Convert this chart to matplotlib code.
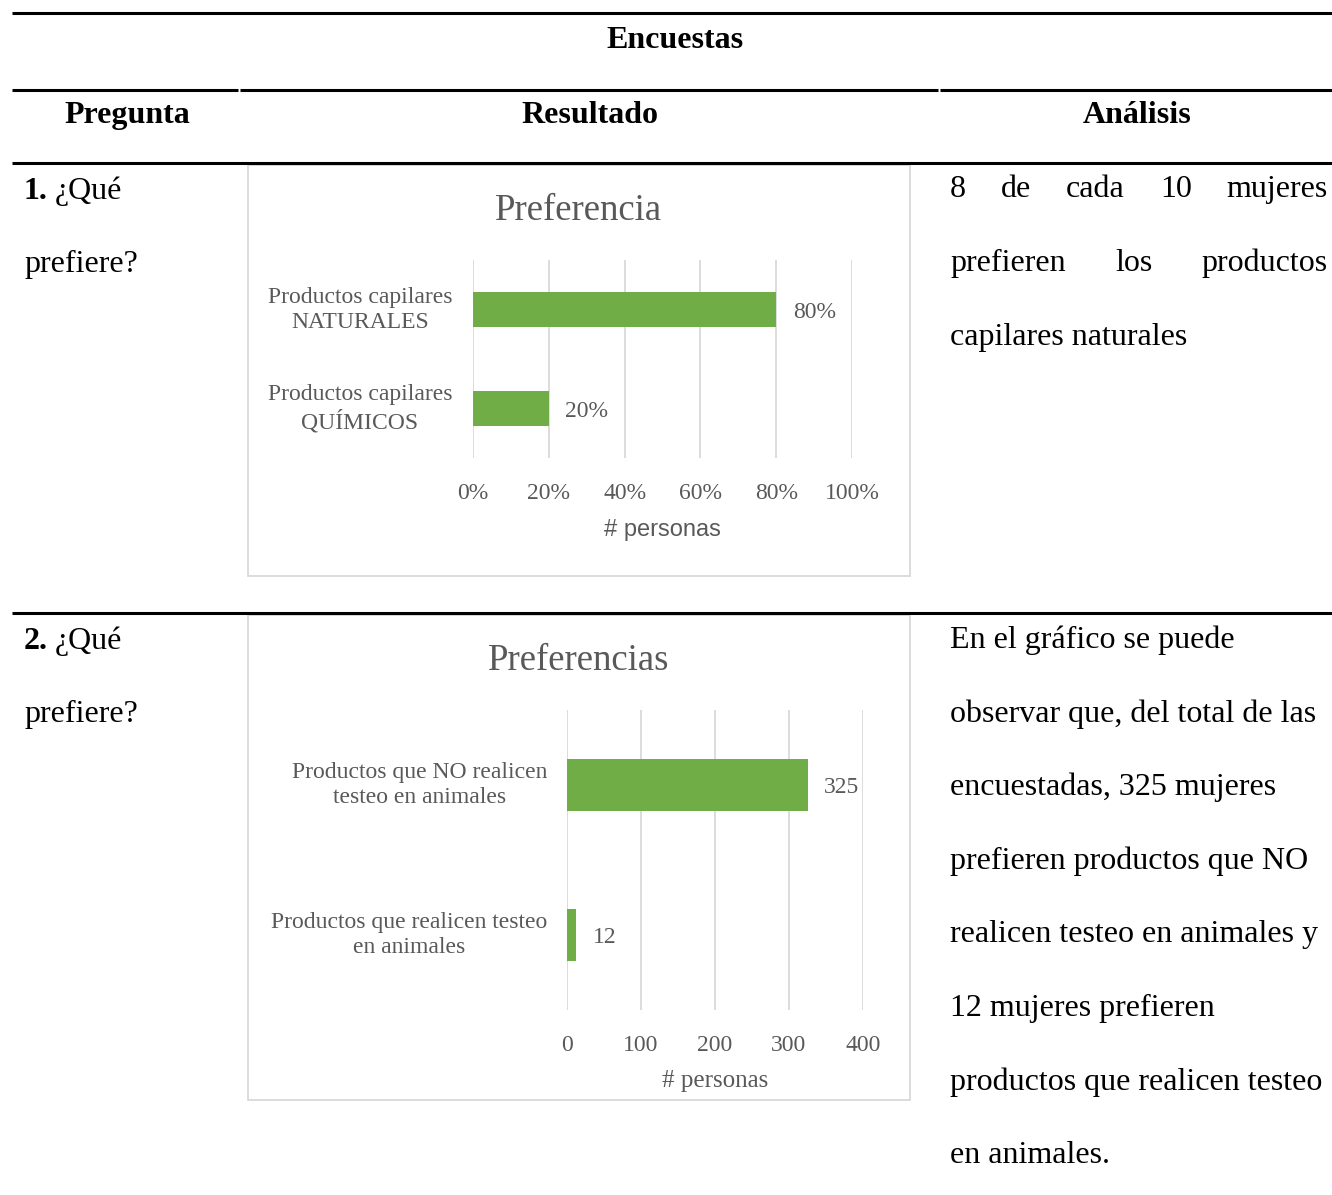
import matplotlib
matplotlib.use("Agg")
import matplotlib.pyplot as plt
from matplotlib.lines import Line2D
from matplotlib.patches import Rectangle

# ---------------- data ----------------
q1_title = "Preferencia"
q1_categories = ["Productos capilares\nNATURALES", "Productos capilares\nQUÍMICOS"]
q1_values = [80, 20]
q1_ticks = [0, 20, 40, 60, 80, 100]
q1_xlabel = "# personas"

q2_title = "Preferencias"
q2_categories = ["Productos que NO realicen\ntesteo en animales",
                 "Productos que realicen testeo\nen animales"]
q2_values = [325, 12]
q2_ticks = [0, 100, 200, 300, 400]
q2_xlabel = "# personas"

header_title = "Encuestas"
col_headers = ["Pregunta", "Resultado", "Análisis"]
analysis1_lines = ["8 de cada 10 mujeres", "prefieren los productos", "capilares naturales"]
analysis2_lines = ["En el gráfico se puede", "observar que, del total de las",
                   "encuestadas, 325 mujeres", "prefieren productos que NO",
                   "realicen testeo en animales y", "12 mujeres prefieren",
                   "productos que realicen testeo", "en animales."]

# ---------------- figure ----------------
W, H = 1332, 1195
fig = plt.figure(figsize=(W / 100, H / 100), dpi=100)
fig.patch.set_facecolor("white")

SERIF = "Liberation Serif"
GRAY = "#595959"
GREEN = "#70AD47"
GRID = "#d9d9d9"
BODY = 23


def fx(x):
    return x / W


def fy(y):
    return 1 - y / H


def hline(y, x0, x1, lw=2.2, color="black"):
    fig.add_artist(Line2D([fx(x0), fx(x1)], [fy(y), fy(y)], lw=lw, color=color,
                          transform=fig.transFigure, solid_capstyle="butt"))


def ftext(x, y, s, **kw):
    kw.setdefault("family", SERIF)
    kw.setdefault("fontsize", BODY)
    kw.setdefault("va", "baseline")
    return fig.text(fx(x), fy(y), s, **kw)


# table rules
hline(13, 12, 1332)
hline(90, 12, 238)
hline(90, 240, 938)
hline(90, 940, 1332)
hline(163, 12, 1332)
hline(613, 12, 1332)

# headers
ftext(675, 48, header_title, ha="center", weight="bold")
ftext(127, 123, col_headers[0], ha="center", weight="bold")
ftext(590, 123, col_headers[1], ha="center", weight="bold")
ftext(1137, 123, col_headers[2], ha="center", weight="bold")

# question column
for num, yb in (("1.", 199), ("2.", 649)):
    ftext(24, yb, num, ha="left", weight="bold")
    ftext(55, yb, "¿Qué", ha="left")
    ftext(24, yb + 73, "prefiere?", ha="left")


# ---------------- charts ----------------
def chart(box, axpos, title, title_y, cats, vals, ticks, fmt, xlabel, xlabel_y,
          xlabel_family, xlabel_size, label_right, pad, bar_h):
    bx0, by0, bx1, by1 = box
    fig.add_artist(Rectangle((fx(bx0), fy(by1)), fx(bx1) - fx(bx0), fy(by0) - fy(by1),
                             fill=False, edgecolor=GRID, lw=1.3, transform=fig.transFigure))
    l, t, r, b = axpos
    ax = fig.add_axes([fx(l), fy(b), fx(r) - fx(l), fy(t) - fy(b)])
    ypos = list(range(len(cats)))
    ax.barh(ypos, vals, height=bar_h, color=GREEN, zorder=3)
    ax.set_xlim(ticks[0], ticks[-1])
    ax.set_ylim(len(cats) - 0.5, -0.5)
    ax.set_xticks(ticks)
    ax.set_xticklabels([fmt(v) for v in ticks], family=SERIF, fontsize=17, color=GRAY)
    ax.tick_params(axis="x", length=0, pad=pad)
    ax.set_yticks([])
    ax.grid(axis="x", color=GRID, lw=1.3, zorder=0)
    for s in ax.spines.values():
        s.set_visible(False)
    ax.set_facecolor("none")
    for yv, v in zip(ypos, vals):
        ax.annotate(fmt(v), (v, yv), xytext=(12, -2), textcoords="offset points",
                    va="center", ha="left", family=SERIF, fontsize=17, color=GRAY)
        ax.annotate(cats[yv], (0, yv), xytext=(-(l - label_right) * 0.72, 0),
                    textcoords="offset points", va="center", ha="right",
                    multialignment="center", family=SERIF, fontsize=17, color=GRAY,
                    linespacing=1.25)
    fig.text(fx((l + r) / 2), fy(xlabel_y), xlabel, ha="center", va="center",
             family=xlabel_family, fontsize=xlabel_size, color=GRAY)
    fig.text(fx((bx0 + bx1) / 2), fy(title_y), title, ha="center", va="baseline",
             family=SERIF, fontsize=26.5, color=GRAY)
    return ax


chart((248, 165, 910, 576), (473, 260, 852, 458), q1_title, 220,
      q1_categories, q1_values, q1_ticks, lambda v: f"{v:g}%",
      q1_xlabel, 530, "Liberation Sans", 17, 452, 18, 0.36)

chart((248, 615, 910, 1100), (567, 710, 863, 1010), q2_title, 670,
      q2_categories, q2_values, q2_ticks, lambda v: f"{v:g}",
      q2_xlabel, 1081, SERIF, 18, 547, 18, 0.345)

# ---------------- analysis column ----------------
renderer = fig.canvas.get_renderer()
X0, X1 = 950, 1328
for i, line in enumerate(analysis1_lines):
    yb = 197 + 74 * i
    words = line.split()
    if i < len(analysis1_lines) - 1:
        arts = [ftext(X0, yb, w, ha="left") for w in words]
        widths = [a.get_window_extent(renderer).width for a in arts]
        gap = (X1 - X0 - sum(widths)) / (len(words) - 1)
        x = X0
        for a, w in zip(arts, widths):
            a.set_x(fx(x))
            x += w + gap
    else:
        ftext(X0, yb, line, ha="left")

for i, line in enumerate(analysis2_lines):
    ftext(X0, 648 + 73.6 * i, line, ha="left")

fig.savefig("out.png", dpi=100, facecolor="white")
